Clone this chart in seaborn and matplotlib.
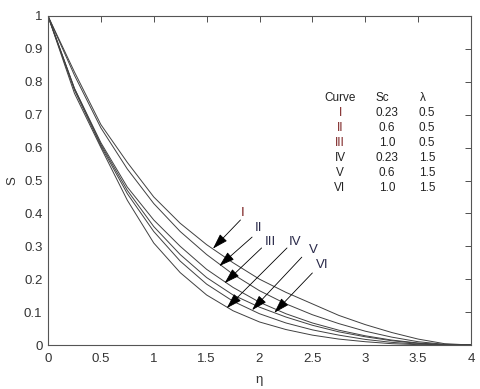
import numpy as np
import pandas as pd
import matplotlib
matplotlib.use('Agg')
import matplotlib.pyplot as plt
import seaborn as sns

# eta grid and profiles
eta = [0, 0.25, 0.5, 0.75, 1.0, 1.25, 1.5, 1.75, 2.0, 2.25, 2.5, 2.75, 3.0, 3.25, 3.5, 3.75, 4.0]
s_I = [1, 0.83, 0.67, 0.555, 0.45, 0.37, 0.305, 0.25, 0.2, 0.16, 0.125, 0.09, 0.062, 0.038, 0.018, 0.004, 0]
s_II = [1, 0.82, 0.66, 0.535, 0.43, 0.345, 0.275, 0.215, 0.165, 0.125, 0.092, 0.065, 0.042, 0.024, 0.01, 0.002, 0]
s_III = [1, 0.78, 0.615, 0.48, 0.38, 0.3, 0.23, 0.175, 0.13, 0.095, 0.067, 0.045, 0.028, 0.015, 0.006, 0.001, 0]
s_IV = [1, 0.765, 0.6, 0.44, 0.31, 0.22, 0.152, 0.104, 0.07, 0.047, 0.03, 0.018, 0.01, 0.004, 0.001, 0, 0]
s_V = [1, 0.775, 0.605, 0.46, 0.345, 0.255, 0.185, 0.133, 0.095, 0.067, 0.046, 0.03, 0.017, 0.008, 0.003, 0, 0]
s_VI = [1, 0.78, 0.61, 0.47, 0.36, 0.275, 0.205, 0.152, 0.115, 0.085, 0.06, 0.04, 0.025, 0.013, 0.005, 0.001, 0]

curves = ['I', 'II', 'III', 'IV', 'V', 'VI']
sc_vals = ['0.23', '0.6', '1.0', '0.23', '0.6', '1.0']
lam_vals = ['0.5', '0.5', '0.5', '1.5', '1.5', '1.5']

# arrow tips (on curves) and label positions
tips = [(1.56, 0.293), (1.62, 0.240), (1.67, 0.188), (1.69, 0.112), (1.93, 0.106), (2.14, 0.098)]
tails = [(1.82, 0.38), (1.93, 0.328), (2.02, 0.295), (2.26, 0.295), (2.40, 0.267), (2.50, 0.219)]
label_pos = [(1.84, 0.40), (1.99, 0.356), (2.10, 0.312), (2.34, 0.313), (2.51, 0.290), (2.59, 0.243)]

sns.set_theme(style='white')
plt.rcParams['font.family'] = ['Liberation Sans', 'DejaVu Sans']

profiles = [s_I, s_II, s_III, s_IV, s_V, s_VI]
df = pd.concat([pd.DataFrame({'eta': eta, 'S': p, 'curve': c}) for c, p in zip(curves, profiles)])

fig = plt.figure(figsize=(4.8, 3.89), dpi=100)
ax = fig.add_axes([48 / 480, 44 / 389, 423 / 480, 329 / 389])
sns.lineplot(data=df, x='eta', y='S', hue='curve', palette=['#404040'] * 6,
             linewidth=0.7, legend=False, ax=ax)

ax.set_xlim(0, 4)
ax.set_ylim(0, 1)
ax.set_xticks(np.arange(0, 4.01, 0.5))
ax.set_xticklabels(['0', '0.5', '1', '1.5', '2', '2.5', '3', '3.5', '4'])
ax.set_yticks(np.arange(0, 1.01, 0.1))
ax.set_yticklabels(['0', '0.1', '0.2', '0.3', '0.4', '0.5', '0.6', '0.7', '0.8', '0.9', '1'])
ax.tick_params(direction='in', top=True, right=True, length=4, width=0.6,
               labelsize=9.5, colors='#333333', pad=4)
ax.tick_params(axis='x', pad=6)
for sp in ax.spines.values():
    sp.set_color('#555555')
    sp.set_linewidth(0.8)
ax.set_xlabel('η', fontsize=9.5, color='#333333', labelpad=6)
ax.set_ylabel('S', fontsize=9.5, color='#333333', labelpad=4)

red = '#7a1f1f'
for i, c in enumerate(curves):
    ax.annotate('', xy=tips[i], xytext=tails[i],
                arrowprops=dict(arrowstyle='-|>,head_length=0.8,head_width=0.25',
                                color='black', lw=0.6, shrinkA=0, shrinkB=0))
    ax.text(label_pos[i][0], label_pos[i][1], c, fontsize=9.5, ha='center', va='center',
            color=red if i == 0 else '#2a2a4a')

# parameter table
def fx(px):
    return (px - 48) / 423

def fy(py):
    return (345 - py) / 329

ax.text(fx(340), fy(98), 'Curve', transform=ax.transAxes, fontsize=8.5, ha='center', va='center', color='#222222')
ax.text(fx(382), fy(98), 'Sc', transform=ax.transAxes, fontsize=8.5, ha='center', va='center', color='#222222')
ax.text(fx(423), fy(98), 'λ', transform=ax.transAxes, fontsize=8.5, ha='center', va='center', color='#222222')
for i, c in enumerate(curves):
    y = fy(113 + 15 * i)
    ax.text(fx(340), y, c, transform=ax.transAxes, fontsize=8.5, ha='center', va='center',
            color=red if i < 3 else '#222222')
    ax.text(fx(387), y, sc_vals[i], transform=ax.transAxes, fontsize=8.5, ha='center', va='center', color='#222222')
    ax.text(fx(427), y, lam_vals[i], transform=ax.transAxes, fontsize=8.5, ha='center', va='center', color='#222222')

fig.savefig('out.png', dpi=100, facecolor='white')
